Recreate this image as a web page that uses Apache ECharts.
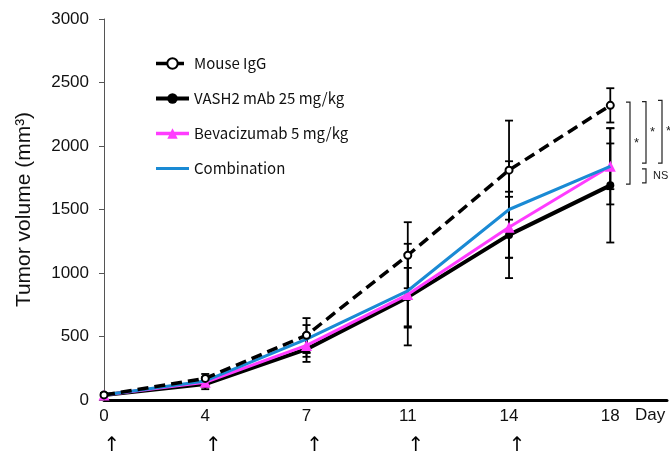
<!DOCTYPE html>
<html>
<head>
<meta charset="utf-8">
<script src="https://cdn.jsdelivr.net/npm/echarts@6/dist/echarts.min.js"></script>
<style>
html,body{margin:0;padding:0;background:#fff;}
#main{width:670px;height:455px;}
</style>
</head>
<body>
<div id="main"></div>
<script>
// days (equally spaced on the axis)
var days = ['0', '4', '7', '11', '14', '18'];
var dosed = [0, 1, 2, 3, 4]; // arrows under these days

// mean tumor volume and SD
var igg = [40, 170, 510, 1140, 1810, 2320];
var iggErr = [15, 35, 135, 260, 390, 135];
var vash = [40, 125, 400, 810, 1300, 1690];
var vashErr = [15, 40, 100, 230, 340, 450];
var bev = [40, 140, 430, 830, 1360, 1840];
var bevErr = [15, 35, 90, 400, 240, 180];
var combo = [40, 150, 480, 860, 1500, 1840];
var comboErr = [15, 30, 110, 290, 380, 300];

var names = ['Mouse IgG', 'VASH2 mAb 25 mg/kg', 'Bevacizumab 5 mg/kg', 'Combination'];

function pts(arr){
	var out = [];
	for(var i=0;i<arr.length;i++){ out.push([i, arr[i]]); }
	return out;
}
function errPts(arr, err){
	var out = [];
	for(var i=0;i<arr.length;i++){ out.push([i, arr[i]-err[i], arr[i]+err[i]]); }
	return out;
}

//误差线
function errSeries(arr, err){
	return {
		type: 'custom',
		z: 1,
		silent: true,
		data: errPts(arr, err),
		renderItem: function(params, api){
			var x = api.value(0);
			var lo = api.coord([x, api.value(1)]);
			var hi = api.coord([x, api.value(2)]);
			var st = {stroke: '#000', lineWidth: 1.8};
			return {
				type: 'group',
				children: [
					{type: 'line', shape: {x1: lo[0], y1: lo[1], x2: hi[0], y2: hi[1]}, style: st},
					{type: 'line', shape: {x1: lo[0]-4, y1: lo[1], x2: lo[0]+4, y2: lo[1]}, style: st},
					{type: 'line', shape: {x1: hi[0]-4, y1: hi[1], x2: hi[0]+4, y2: hi[1]}, style: st}
				]
			};
		}
	};
}

var myChart = echarts.init(document.getElementById('main'));

var option = {
	animation: false,
	backgroundColor: '#fff',
	grid: {left: 104, right: 0, top: 19, bottom: 55},
	legend: {
		orient: 'vertical',
		left: 149,
		top: 51,
		itemGap: 20,
		itemWidth: 33,
		itemHeight: 13,
		data: [
			{name: names[0], lineStyle: {width: 3.5}},
			{name: names[1], lineStyle: {width: 4}},
			{name: names[2], lineStyle: {width: 3.5}},
			{name: names[3], lineStyle: {width: 3}, itemStyle: {opacity: 0}}
		],
		textStyle: {fontFamily: 'Noto Sans CJK JP', fontSize: 15, color: '#111'}
	},
	xAxis: {
		type: 'value',
		min: 0,
		max: 5.56,
		interval: 1,
		splitLine: {show: false},
		axisTick: {show: false},
		axisLine: {lineStyle: {color: '#000', width: 3}},
		axisLabel: {
			margin: 8,
			fontFamily: 'Liberation Sans',
			fontSize: 17,
			color: '#111',
			formatter: function(v){ return days[v] !== undefined ? days[v] : ''; }
		}
	},
	yAxis: {
		type: 'value',
		min: 0,
		max: 3000,
		interval: 500,
		splitLine: {show: false},
		axisLine: {show: true, lineStyle: {color: '#555', width: 1}},
		axisTick: {show: true, length: 5, lineStyle: {color: '#555'}},
		axisLabel: {margin: 15, fontFamily: 'Liberation Sans', fontSize: 17, color: '#111',
			formatter: function(v){ return String(v); }},
		name: 'Tumor volume (mm³)',
		nameLocation: 'middle',
		nameRotate: 90,
		nameGap: 69,
		nameTextStyle: {fontFamily: 'Liberation Sans', fontSize: 21, color: '#111'}
	},
	series: [
		errSeries(igg, iggErr),
		errSeries(vash, vashErr),
		errSeries(bev, bevErr),
		errSeries(combo, comboErr),
		{
			name: names[1], type: 'line', z: 3, data: pts(vash),
			symbol: 'circle', symbolSize: 8,
			itemStyle: {color: '#000'},
			lineStyle: {color: '#000', width: 4}
		},
		{
			name: names[2], type: 'line', z: 4, data: pts(bev),
			symbol: 'triangle', symbolSize: 11,
			itemStyle: {color: '#ff3cff'},
			lineStyle: {color: '#ff3cff', width: 3}
		},
		{
			name: names[3], type: 'line', z: 5, data: pts(combo),
			symbol: 'none',
			itemStyle: {color: '#1a8ad4'},
			lineStyle: {color: '#1a8ad4', width: 3}
		},
		{
			name: names[0], type: 'line', z: 6, data: pts(igg),
			symbol: 'emptyCircle', symbolSize: 7,
			itemStyle: {color: '#000', borderWidth: 1.5},
			lineStyle: {color: '#000', width: 3.5, type: [11, 6]}
		}
	]
};
myChart.setOption(option);

// 给药箭头, Day 和显著性标注
function px(i, v){ return myChart.convertToPixel({gridIndex: 0}, [i, v]); }
var g = [];
for(var k=0;k<dosed.length;k++){
	var p = px(dosed[k], 0);
	g.push({type: 'text', x: p[0]+8, y: 446, style: {text: '↑', font: '20px "DejaVu Sans"', fill: '#000', align: 'center', verticalAlign: 'middle'}});
}
g.push({type: 'text', x: 635, y: 415, style: {text: 'Day', font: '17px "Liberation Sans"', fill: '#111', align: 'left', verticalAlign: 'middle'}});

function bracket(x, v1, v2, label, dx, fs){
	var a = px(5, v1)[1], b = px(5, v2)[1];
	g.push({type: 'polyline', shape: {points: [[x, a], [x+4, a], [x+4, b], [x, b]]}, style: {stroke: '#222', lineWidth: 1.2, fill: null}});
	g.push({type: 'text', x: x+dx, y: (a+b)/2, style: {text: label, font: fs+'px "Liberation Sans"', fill: '#222', align: 'left', verticalAlign: 'middle'}});
}
bracket(626, igg[5]+25, vash[5]+10, '*', 8, 13);
bracket(642, igg[5]+30, bev[5]+25, '*', 8, 13);
bracket(658, igg[5]+40, bev[5]+25, '*', 8, 13);
bracket(642, bev[5]-20, vash[5]+20, 'NS', 11, 11);

myChart.setOption({graphic: g});
</script>
</body>
</html>
